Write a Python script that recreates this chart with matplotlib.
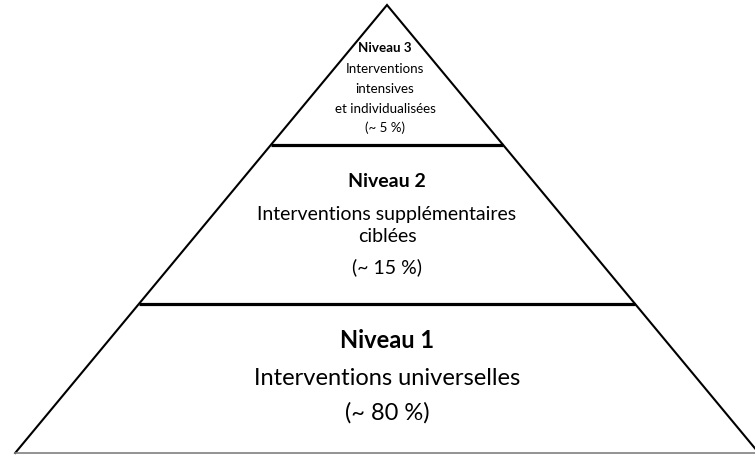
import matplotlib.pyplot as plt

# niveaux de la pyramide (du bas vers le haut)
levels = ['Niveau 1', 'Niveau 2', 'Niveau 3']
descriptions = [
    ['Interventions universelles'],
    ['Interventions supplémentaires', 'ciblées'],
    ['Interventions', 'intensives', 'et individualisées'],
]
shares = [80, 15, 5]

# mise en page (pixels, axe y vers le bas)
W, H = 755, 455
apex = (387, 5)
base_y = 453
slope = 0.83  # demi-largeur par pixel de hauteur
tier_tops = [304, 145]  # limites entre niveaux
baselines = [
    [348, 385, 420],
    [187, 220, 242, 273],
    [52, 73, 93, 113, 132],
]
font_sizes = [17, 14, 9.6]
text_x = [387, 387, 385]

plt.rcParams['font.family'] = ['Lato', 'DejaVu Sans']

fig = plt.figure(figsize=(W / 100, H / 100), dpi=100)
ax = fig.add_axes([0, 0, 1, 1])
ax.set_xlim(0, W)
ax.set_ylim(H, 0)
ax.axis('off')


def half_width(y):
    return slope * (y - apex[1])


# côtés du triangle
hw = half_width(base_y)
ax.plot([apex[0] - hw, apex[0], apex[0] + hw], [base_y, apex[1], base_y],
        color='black', lw=1.5, solid_joinstyle='miter')
# base
ax.plot([apex[0] - hw, W], [base_y, base_y], color='#808080', lw=1.2)
# séparations
for y in tier_tops:
    hw = half_width(y)
    ax.plot([apex[0] - hw, apex[0] + hw], [y, y], color='black', lw=2.3,
            solid_capstyle='butt')

# textes
for i in range(len(levels)):
    lines = [levels[i]] + descriptions[i] + ['(~ %d %%)' % shares[i]]
    for j, txt in enumerate(lines):
        ax.text(text_x[i], baselines[i][j], txt, ha='center', va='baseline',
                fontsize=font_sizes[i], fontweight='bold' if j == 0 else 'normal',
                color='black')

plt.savefig('out.png', dpi=100)
